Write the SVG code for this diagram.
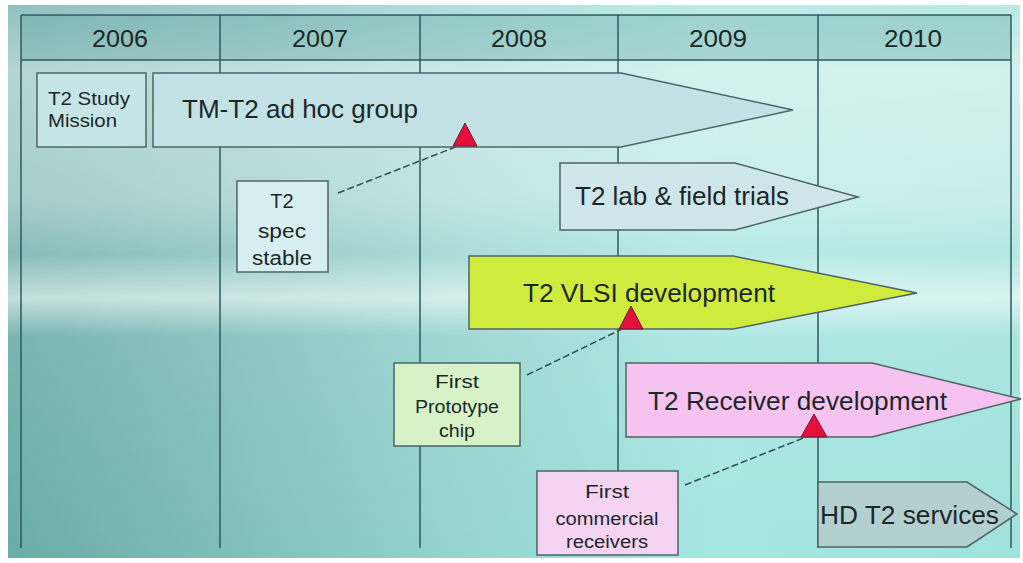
<svg xmlns="http://www.w3.org/2000/svg" width="1023" height="563" viewBox="0 0 1023 563">
<style>
.t{font-family:"Liberation Sans",Arial,sans-serif;fill:#1c2828}
.grid{stroke:#2e5b5c;stroke-width:1.5;fill:none}
.box{stroke:#4d6466;stroke-width:1.5}
.conn{stroke:#2d4f50;stroke-width:1.5;fill:none;stroke-dasharray:7 3}
.tri{fill:#e3103e;stroke:#6a2030;stroke-width:1}
</style>
<defs>
<linearGradient id="gH" x1="0" y1="0" x2="1" y2="0">
<stop offset="0" stop-color="#6aaca8"/>
<stop offset="0.2" stop-color="#7ebcb8"/>
<stop offset="0.45" stop-color="#96d4cf"/>
<stop offset="0.7" stop-color="#a6e6e0"/>
<stop offset="1" stop-color="#a2e2dc"/>
</linearGradient>
<linearGradient id="gV" x1="0" y1="0" x2="0" y2="1">
<stop offset="0" stop-color="#ffffff" stop-opacity="0.25"/>
<stop offset="0.12" stop-color="#ffffff" stop-opacity="0.5"/>
<stop offset="0.35" stop-color="#ffffff" stop-opacity="0.4"/>
<stop offset="0.45" stop-color="#ffffff" stop-opacity="0.2"/>
<stop offset="0.53" stop-color="#ffffff" stop-opacity="0.6"/>
<stop offset="0.6" stop-color="#ffffff" stop-opacity="0.1"/>
<stop offset="1" stop-color="#ffffff" stop-opacity="0"/>
</linearGradient>
</defs>
<rect x="0" y="0" width="1023" height="563" fill="#ffffff"/>
<rect x="8" y="5" width="1012" height="553" fill="url(#gH)"/>
<rect x="8" y="5" width="1012" height="553" fill="url(#gV)"/>
<g id="grid">
<rect x="21" y="15" width="990" height="45" fill="#4f9796" fill-opacity="0.3"/>
<line class="grid" x1="21" y1="15" x2="1011" y2="15"/>
<line class="grid" x1="21" y1="60" x2="1011" y2="60"/>
<line class="grid" x1="21" y1="15" x2="21" y2="548"/>
<line class="grid" x1="220" y1="15" x2="220" y2="548"/>
<line class="grid" x1="420" y1="15" x2="420" y2="548"/>
<line class="grid" x1="618" y1="15" x2="618" y2="548"/>
<line class="grid" x1="818" y1="15" x2="818" y2="548"/>
<line class="grid" x1="1011" y1="15" x2="1011" y2="548"/>
<text class="t" x="120" y="47" font-size="24" text-anchor="middle" textLength="56" lengthAdjust="spacingAndGlyphs">2006</text>
<text class="t" x="320" y="47" font-size="24" text-anchor="middle" textLength="56" lengthAdjust="spacingAndGlyphs">2007</text>
<text class="t" x="519" y="47" font-size="24" text-anchor="middle" textLength="56" lengthAdjust="spacingAndGlyphs">2008</text>
<text class="t" x="718" y="47" font-size="24" text-anchor="middle" textLength="58" lengthAdjust="spacingAndGlyphs">2009</text>
<text class="t" x="913" y="47" font-size="24" text-anchor="middle" textLength="58" lengthAdjust="spacingAndGlyphs">2010</text>
</g>
<g id="connectors">
<line class="conn" x1="338" y1="193" x2="458" y2="146"/>
<line class="conn" x1="527" y1="375" x2="622" y2="329"/>
<line class="conn" x1="685" y1="485" x2="806" y2="437"/>
</g>
<g id="study-mission">
<rect class="box" x="37" y="73" width="109" height="74" fill="#c6e5e7"/>
<text class="t" x="48" y="105" font-size="19" textLength="82" lengthAdjust="spacingAndGlyphs">T2 Study</text>
<text class="t" x="48" y="127" font-size="19" textLength="69" lengthAdjust="spacingAndGlyphs">Mission</text>
</g>
<g id="adhoc-group">
<polygon class="box" points="153,73 621,73 793,110 621,147 153,147" fill="#c3e2e5"/>
<text class="t" x="182" y="118" font-size="25" textLength="236" lengthAdjust="spacingAndGlyphs">TM-T2 ad hoc group</text>
<polygon class="tri" points="465,123 477,146 453,146"/>
</g>
<g id="spec-stable">
<rect class="box" x="237" y="181" width="91" height="91" fill="#d8eff1"/>
<text class="t" x="282" y="208" font-size="20" text-anchor="middle">T2</text>
<text class="t" x="282" y="238" font-size="20" text-anchor="middle" textLength="48" lengthAdjust="spacingAndGlyphs">spec</text>
<text class="t" x="282" y="265" font-size="20" text-anchor="middle" textLength="60" lengthAdjust="spacingAndGlyphs">stable</text>
</g>
<g id="lab-trials">
<polygon class="box" points="560,163 735,163 858,197 735,230 560,230" fill="#cfe6ea"/>
<text class="t" x="575" y="205" font-size="25" textLength="214" lengthAdjust="spacingAndGlyphs">T2 lab &amp; field trials</text>
</g>
<g id="vlsi">
<polygon class="box" points="469,256 733,256 917,293 733,329 469,329" fill="#cfec3e"/>
<text class="t" x="523" y="302" font-size="26" textLength="252" lengthAdjust="spacingAndGlyphs">T2 VLSI development</text>
<polygon class="tri" points="631,306 643,329 619,329"/>
</g>
<g id="prototype">
<rect class="box" x="394" y="363" width="126" height="83" fill="#d7f2c6"/>
<text class="t" x="457" y="388" font-size="18" text-anchor="middle" textLength="44" lengthAdjust="spacingAndGlyphs">First</text>
<text class="t" x="457" y="413" font-size="18" text-anchor="middle" textLength="84" lengthAdjust="spacingAndGlyphs">Prototype</text>
<text class="t" x="457" y="437" font-size="18" text-anchor="middle" textLength="36" lengthAdjust="spacingAndGlyphs">chip</text>
</g>
<g id="receiver-dev">
<polygon class="box" points="626,363 872,363 1021,399 872,437 626,437" fill="#f6c3f0"/>
<text class="t" x="648" y="410" font-size="26" textLength="299" lengthAdjust="spacingAndGlyphs">T2 Receiver development</text>
<polygon class="tri" points="814,414 827,437 801,437"/>
</g>
<g id="commercial">
<rect class="box" x="537" y="471" width="141" height="84" fill="#f4d3f3"/>
<text class="t" x="607" y="498" font-size="18" text-anchor="middle" textLength="44" lengthAdjust="spacingAndGlyphs">First</text>
<text class="t" x="607" y="525" font-size="18" text-anchor="middle" textLength="103" lengthAdjust="spacingAndGlyphs">commercial</text>
<text class="t" x="607" y="548" font-size="18" text-anchor="middle" textLength="82" lengthAdjust="spacingAndGlyphs">receivers</text>
</g>
<g id="hd-services">
<polygon class="box" points="818,482 967,482 1017,514 967,547 818,547" fill="#b4cfd0"/>
<text class="t" x="820" y="524" font-size="25" textLength="179" lengthAdjust="spacingAndGlyphs">HD T2 services</text>
</g>
</svg>
